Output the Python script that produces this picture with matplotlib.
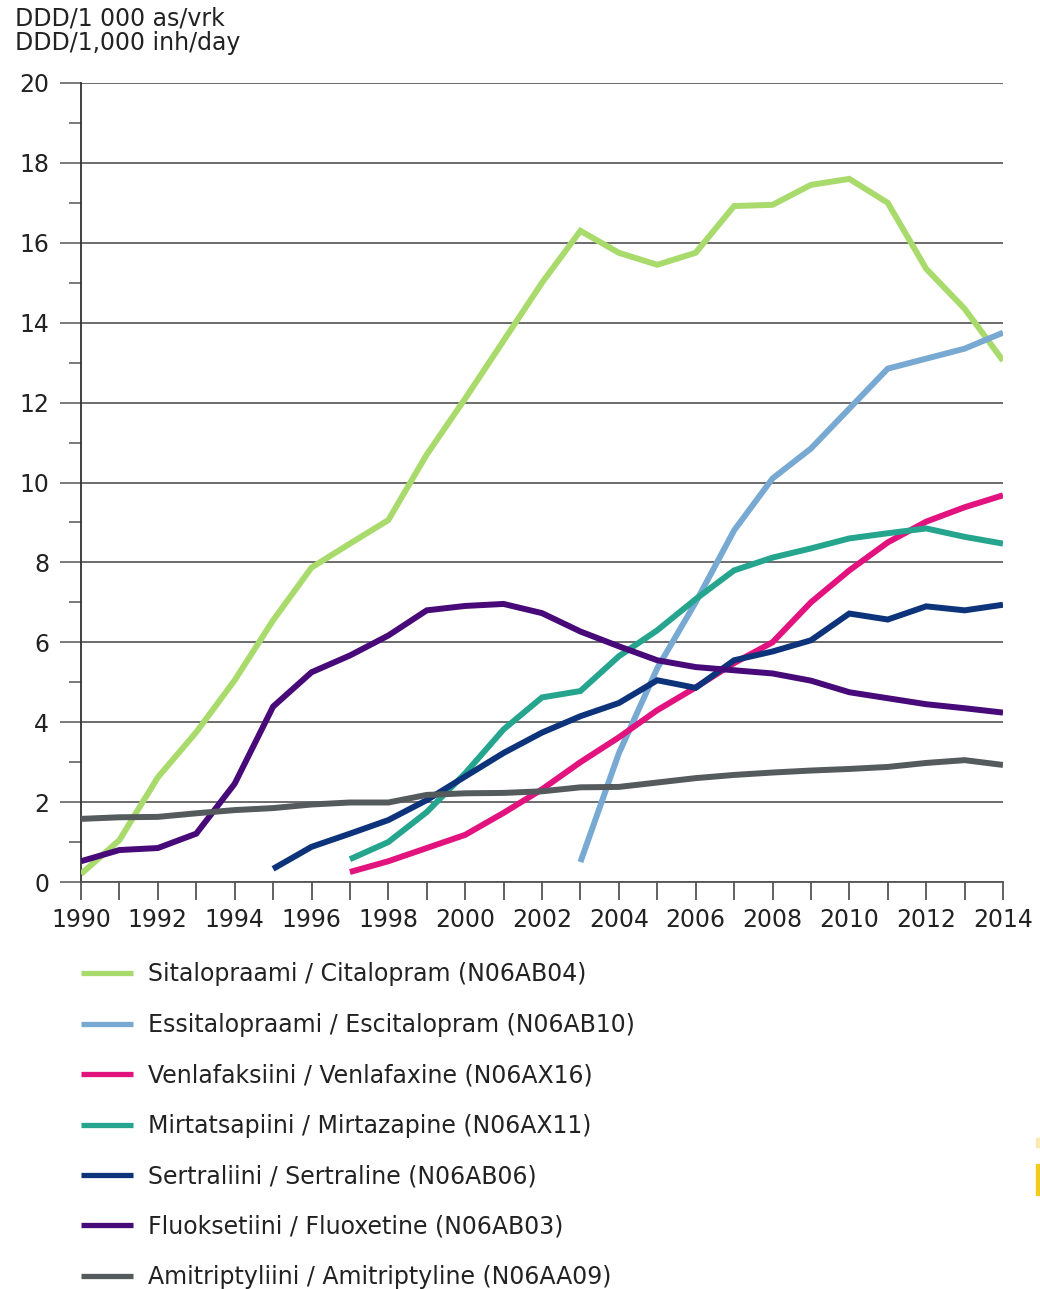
import matplotlib.pyplot as plt
import matplotlib.patches as mpatches
import numpy as np

# the source picture is stretched sideways, DejaVu is the widest font we have
plt.rcParams['font.family'] = ['DejaVu Sans']

years = np.arange(1990, 2015)

# values, DDD/1000 inh/day
citalopram = [0.2, 1.05, 2.62, 3.75, 5.05, 6.55, 7.87, 8.47, 9.06, 10.7, 12.1, 13.55,
              15.0, 16.3, 15.75, 15.45, 15.75, 16.92, 16.95, 17.45, 17.6, 17.0, 15.35,
              14.35, 13.05]
escitalopram = [0.5, 3.22, 5.35, 7.0, 8.8, 10.1, 10.85, 11.85, 12.85, 13.1, 13.35, 13.75]
venlafaxine = [0.25, 0.52, 0.85, 1.18, 1.73, 2.32, 3.0, 3.62, 4.3, 4.87, 5.48, 6.0,
               7.0, 7.8, 8.5, 9.02, 9.38, 9.68]
mirtazapine = [0.57, 1.0, 1.75, 2.72, 3.82, 4.62, 4.78, 5.65, 6.3, 7.08, 7.8, 8.12,
               8.35, 8.6, 8.73, 8.85, 8.64, 8.47]
sertraline = [0.33, 0.88, 1.21, 1.55, 2.05, 2.64, 3.23, 3.74, 4.15, 4.48, 5.05, 4.86,
              5.55, 5.77, 6.05, 6.72, 6.57, 6.9, 6.8, 6.94]
fluoxetine = [0.52, 0.8, 0.85, 1.21, 2.46, 4.39, 5.25, 5.67, 6.17, 6.8, 6.91, 6.96,
              6.73, 6.27, 5.9, 5.55, 5.38, 5.3, 5.22, 5.04, 4.75, 4.6, 4.45, 4.35, 4.24]
amitriptyline = [1.58, 1.62, 1.63, 1.72, 1.8, 1.85, 1.94, 1.99, 1.99, 2.18, 2.22, 2.23,
                 2.27, 2.37, 2.38, 2.49, 2.6, 2.68, 2.74, 2.79, 2.83, 2.88, 2.98, 3.05, 2.93]

series = [
    ("Sitalopraami / Citalopram (N06AB04)", citalopram, "#a9da6c"),
    ("Essitalopraami / Escitalopram (N06AB10)", escitalopram, "#78a9d2"),
    ("Venlafaksiini / Venlafaxine (N06AX16)", venlafaxine, "#e2127f"),
    ("Mirtatsapiini / Mirtazapine (N06AX11)", mirtazapine, "#25a58e"),
    ("Sertraliini / Sertraline (N06AB06)", sertraline, "#0d347a"),
    ("Fluoksetiini / Fluoxetine (N06AB03)", fluoxetine, "#470a78"),
    ("Amitriptyliini / Amitriptyline (N06AA09)", amitriptyline, "#555a5d"),
]

FS = 17
W, H = 1040, 1289
fig = plt.figure(figsize=(W / 100, H / 100), dpi=100)
ax = fig.add_axes([81 / W, 1 - 882 / H, (1003 - 81) / W, (882 - 83) / H])

for label, vals, col in series:
    x = years[len(years) - len(vals):]
    ax.plot(x, vals, color=col, lw=4.3, label=label, solid_capstyle='butt',
            solid_joinstyle='miter', zorder=3)

ax.set_xlim(1990, 2014)
ax.set_ylim(0, 20)
ax.set_xticks(np.arange(1990, 2015, 2))
ax.set_xticks(np.arange(1990, 2015, 1), minor=True)
ax.set_yticks(np.arange(0, 21, 2))
ax.set_yticks(np.arange(1, 20, 2), minor=True)

for s in ['top', 'right']:
    ax.spines[s].set_visible(False)
ax.spines['left'].set_color('#333333')
ax.spines['left'].set_linewidth(1.3)
ax.spines['bottom'].set_color('#555555')
ax.spines['bottom'].set_linewidth(1.3)

ax.grid(axis='y', color='#444444', lw=1.1, zorder=1)
ax.tick_params(axis='y', which='major', length=15, width=1.1, color='#555555',
               pad=8, labelsize=FS, labelcolor='#222222')
ax.tick_params(axis='y', which='minor', length=9, width=1.1, color='#555555')
ax.tick_params(axis='x', which='both', length=13, width=1.3, color='#555555',
               pad=5.5, labelsize=FS, labelcolor='#222222')

fig.text(15 / W, 1 - 18 / H, "DDD/1 000 as/vrk", fontsize=FS, color='#222222', va='center')
fig.text(15 / W, 1 - 43 / H, "DDD/1,000 inh/day", fontsize=FS, color='#222222', va='center')

leg = fig.legend(loc='upper left', bbox_to_anchor=(81 / W, 1 - 962.5 / H), frameon=False,
                 fontsize=FS, handlelength=2.2, handletextpad=0.63, labelspacing=1.12,
                 borderpad=0, borderaxespad=0)
for t in leg.get_texts():
    t.set_color('#222222')
for h in leg.get_lines():
    h.set_linewidth(3.8)

# small yellow mark at the right edge of the original image
fig.patches.append(mpatches.Rectangle((1036 / W, 1 - 1195 / H), 4 / W, 31 / H,
                                      transform=fig.transFigure, color='#f2cc1c'))
fig.patches.append(mpatches.Rectangle((1036 / W, 1 - 1147 / H), 4 / W, 9 / H,
                                      transform=fig.transFigure, color='#f8eab0'))

fig.savefig('out.png', dpi=100)
